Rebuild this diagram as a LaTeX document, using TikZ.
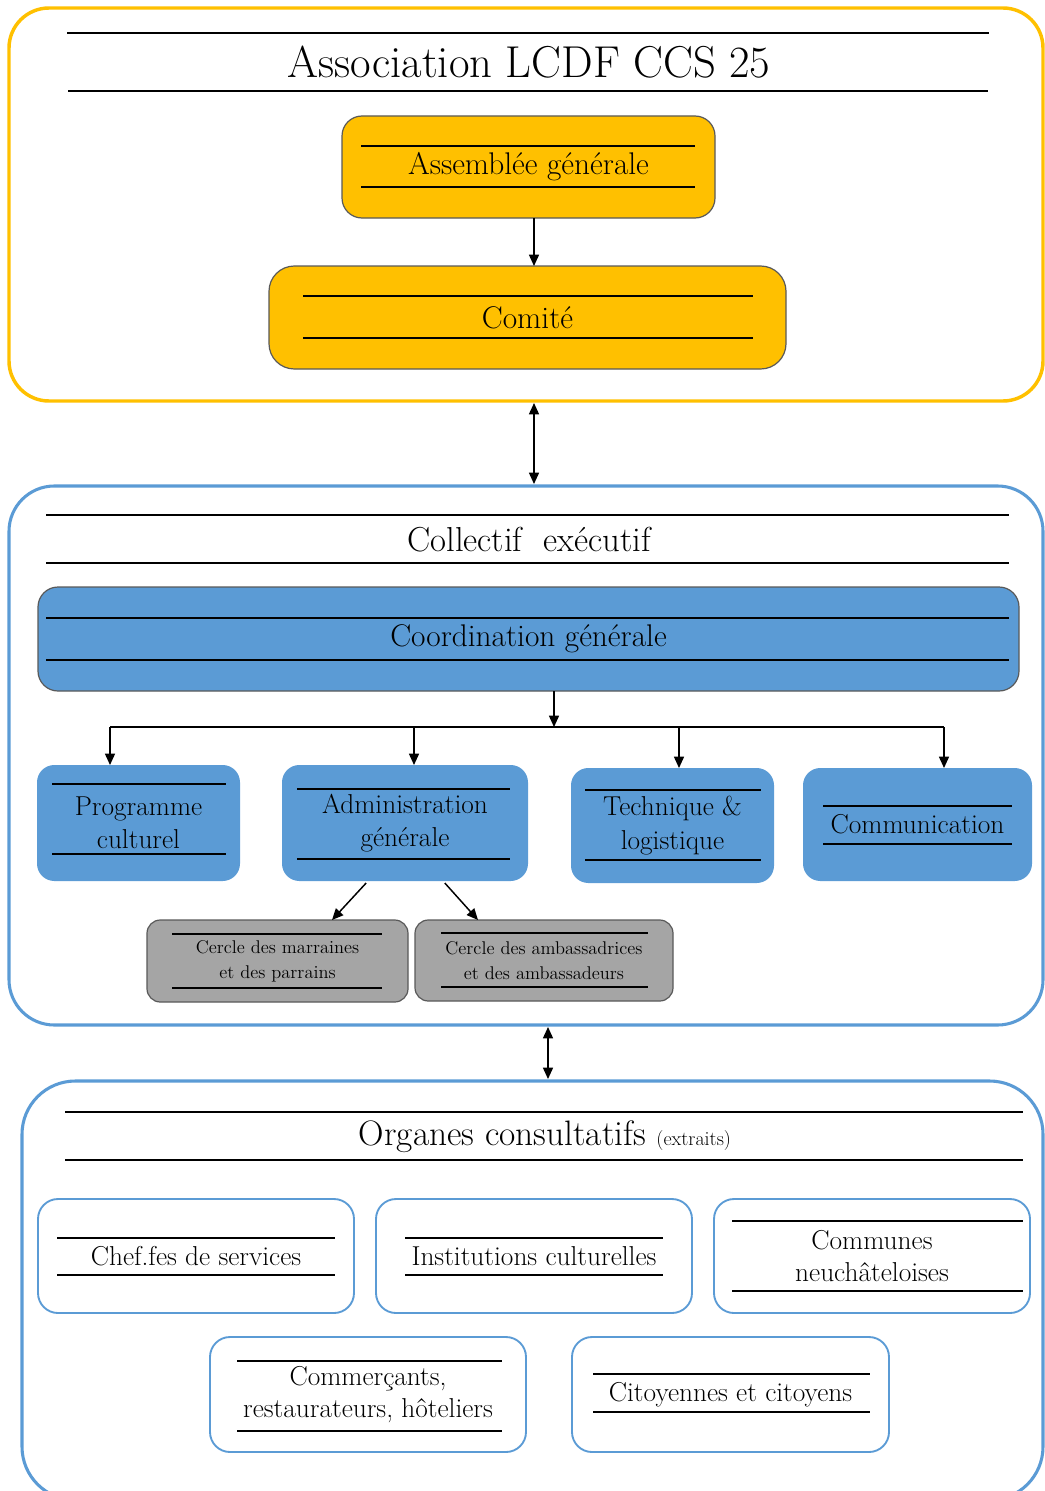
\documentclass[tikz,border=0pt]{standalone}
\usetikzlibrary{arrows.meta}
\definecolor{ygold}{HTML}{FFC000}
\definecolor{mblue}{HTML}{5B9BD5}
\definecolor{mgray}{HTML}{A5A5A5}
\definecolor{edgegray}{HTML}{595959}
\newcommand\bx[7]{\node[#6, minimum width={0.75pt*(#4-#2)}, minimum height={0.75pt*(#5-#3)}] (#1) at ({(#2+#4)/2},{(#3+#5)/2}) {#7};}
\tikzset{
  allbox/.style={inner sep=0pt, outer sep=0pt, align=center, text=black},
  frameY/.style={allbox, draw=ygold, line width=2.6pt, rounded corners=30pt},
  frameB/.style={allbox, draw=mblue, line width=2.3pt, rounded corners=#1},
  goldbox/.style={allbox, fill=ygold, draw=edgegray, line width=0.9pt, rounded corners=#1, font=\fontsize{23.5}{28}\selectfont},
  coordbox/.style={allbox, fill=mblue, draw=edgegray, line width=0.9pt, rounded corners=15pt, font=\fontsize{23.5}{28}\selectfont},
  unitbox/.style={allbox, fill=mblue, rounded corners=13pt, font=\fontsize{20.5}{25}\selectfont},
  circlebox/.style={allbox, fill=mgray, draw=edgegray, line width=0.9pt, rounded corners=10pt, font=\fontsize{13.8}{18.5}\selectfont},
  orgbox/.style={allbox, fill=white, draw=mblue, line width=1.4pt, rounded corners=15pt, font=\fontsize{20.5}{24.5}\selectfont},
  titletext/.style={allbox, font=\fontsize{#1}{#1}\selectfont},
  rule/.style={line width=0.8pt, black},
  tip/.style={},
  arr/.style={-{Triangle[length=8.5pt,width=7.5pt]}, line width=1.1pt},
  dblarr/.style={{Triangle[length=8.5pt,width=7.5pt]}-{Triangle[length=8.5pt,width=7.5pt]}, line width=1.1pt, shorten <=1.5pt, shorten >=1.5pt},
  conn/.style={line width=1.1pt}
}
\begin{document}
\begin{tikzpicture}[x=0.75pt,y=-0.75pt]
\useasboundingbox (0,0) rectangle (1045,1491);
\clip (0,0) rectangle (1045,1491);
% ---- frames
\bx{fa}{9}{8}{1043}{401}{frameY}{}
\bx{fb}{9}{486}{1043}{1025}{frameB=34pt}{}
\bx{fc}{22}{1081}{1043}{1500}{frameB=40pt}{}
% ---- association
\node[titletext=33.5] (ta) at (529,62) {Association LCDF CCS 25};
\draw[rule] (67,33) -- (989,33);
\draw[rule] (68,91) -- (988,91);
\bx{ag}{342}{116}{715}{218}{goldbox=15pt}{Assemblée générale}
\draw[rule] (361,146) -- (695,146);
\draw[rule] (361,187) -- (695,187);
\bx{com}{269}{266}{786}{369}{goldbox=19pt}{Comité}
\draw[rule] (303,296) -- (753,296);
\draw[rule] (303,338) -- (753,338);
\coordinate (ax) at (534,0);
\draw[arr] (ag.south -| ax) -- (com.north -| ax);
\draw[dblarr] (fa.south -| ax) -- (fb.north -| ax);
% ---- collectif
\node[titletext=26] (tb) at (529,540) {Collectif~~exécutif};
\draw[rule] (46,515) -- (1009,515);
\draw[rule] (46,563) -- (1009,563);
\bx{cg}{38}{587}{1019}{691}{coordbox}{Coordination générale}
\draw[rule] (46,618) -- (1009,618);
\draw[rule] (46,660) -- (1009,660);
\bx{prog}{37}{765}{240}{881}{unitbox}{Programme\\culturel}
\draw[rule] (52,784) -- (226,784);
\draw[rule] (52,854) -- (226,854);
\bx{adm}{282}{765}{528}{881}{unitbox}{Administration\\générale}
\draw[rule] (297,789) -- (510,789);
\draw[rule] (297,859) -- (510,859);
\bx{tech}{571}{768}{774}{883}{unitbox}{Technique \&\\logistique}
\draw[rule] (585,790) -- (761,790);
\draw[rule] (585,860) -- (761,860);
\bx{comm}{803}{768}{1032}{881}{unitbox}{Communication}
\draw[rule] (823,806) -- (1012,806);
\draw[rule] (823,844) -- (1012,844);
\coordinate (b0) at (554,727);
\coordinate (b1) at (110,727);
\coordinate (b2) at (414,727);
\coordinate (b3) at (679,727);
\coordinate (b4) at (944,727);
\draw[arr] (cg.south -| b0) -- (b0);
\draw[conn] (b1) -- (b4);
\draw[arr] (b1) -- (prog.north -| b1);
\draw[arr] (b2) -- (adm.north -| b2);
\draw[arr] (b3) -- (tech.north -| b3);
\draw[arr] (b4) -- (comm.north -| b4);
\bx{cm}{147}{920}{408}{1002}{circlebox}{Cercle des marraines\\et des parrains}
\draw[rule] (172,934) -- (382,934);
\draw[rule] (172,988) -- (382,988);
\bx{ca}{415}{920}{673}{1001}{circlebox}{Cercle des ambassadrices\\et des ambassadeurs}
\draw[rule] (441,933) -- (648,933);
\draw[rule] (441,987) -- (648,987);
\coordinate (s1) at (368,0);
\coordinate (e1) at (332,0);
\coordinate (s2) at (443,0);
\coordinate (e2) at (478,0);
\draw[arr, shorten <=2pt] (adm.south -| s1) -- (cm.north -| e1);
\draw[arr, shorten <=2pt] (adm.south -| s2) -- (ca.north -| e2);
\coordinate (dx) at (548,0);
\draw[dblarr] (fb.south -| dx) -- (fc.north -| dx);
% ---- organes
\node[titletext=26.5] (tc) at (545,1137) {Organes consultatifs {\fontsize{15}{15}\selectfont (extraits)}};
\draw[rule] (65,1112) -- (1023,1112);
\draw[rule] (65,1160) -- (1023,1160);
\bx{o1}{38}{1199}{354}{1313}{orgbox}{Chef.fes de services}
\draw[rule] (57,1238) -- (335,1238);
\draw[rule] (57,1275) -- (335,1275);
\bx{o2}{376}{1199}{692}{1313}{orgbox}{Institutions culturelles}
\draw[rule] (405,1238) -- (663,1238);
\draw[rule] (405,1275) -- (663,1275);
\bx{o3}{714}{1199}{1030}{1313}{orgbox}{Communes\\neuchâteloises}
\draw[rule] (732,1221) -- (1023,1221);
\draw[rule] (732,1291) -- (1023,1291);
\bx{o4}{210}{1337}{526}{1452}{orgbox}{Commerçants,\\restaurateurs, hôteliers}
\draw[rule] (237,1361) -- (502,1361);
\draw[rule] (237,1431) -- (502,1431);
\bx{o5}{572}{1337}{889}{1452}{orgbox}{Citoyennes et citoyens}
\draw[rule] (593,1374) -- (870,1374);
\draw[rule] (593,1412) -- (870,1412);
\end{tikzpicture}
\end{document}
